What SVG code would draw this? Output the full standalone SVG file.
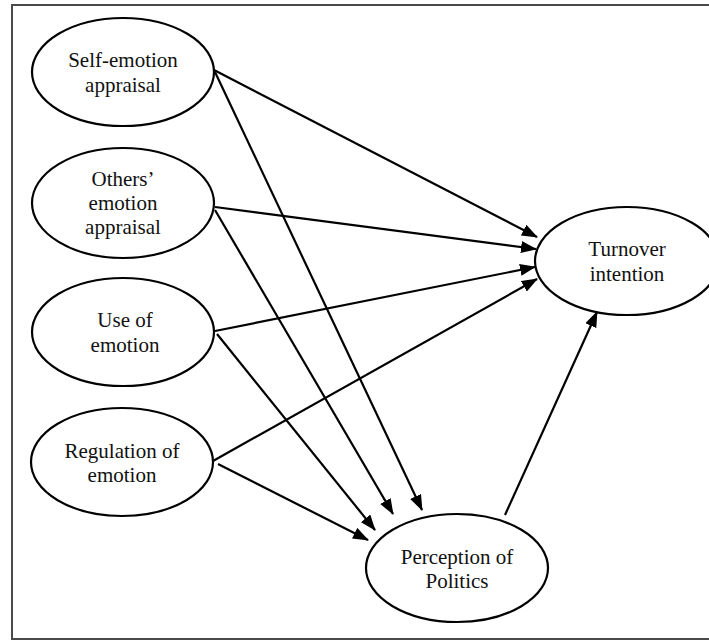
<svg xmlns="http://www.w3.org/2000/svg" width="709" height="641" viewBox="0 0 709 641">
<style>
.node ellipse{fill:#fff;stroke:#000;stroke-width:2.2}
.node text{font-family:"Liberation Serif","Times New Roman",serif;font-size:21px;fill:#111;text-anchor:middle}
.edges line{stroke:#000;stroke-width:2.2;marker-end:url(#ah)}
</style>
<defs>
<marker id="ah" markerUnits="userSpaceOnUse" markerWidth="16" markerHeight="12" viewBox="0 0 16 12" refX="15" refY="6" orient="auto">
<path d="M0,0 L16,6 L0,12 z" fill="#000"/>
</marker>
</defs>
<rect x="0" y="0" width="709" height="641" fill="#fff"/>
<rect x="12" y="5" width="706" height="634" fill="none" stroke="#4a4a4a" stroke-width="2"/>
<g id="connectors" class="edges">
<line x1="214" y1="70" x2="537" y2="237"/>
<line x1="215" y1="72" x2="422" y2="510"/>
<line x1="215" y1="207" x2="536" y2="249"/>
<line x1="215" y1="210" x2="393" y2="514"/>
<line x1="215" y1="331" x2="535" y2="267"/>
<line x1="217" y1="334" x2="375" y2="530"/>
<line x1="213" y1="461" x2="537" y2="279"/>
<line x1="218" y1="464" x2="368" y2="540"/>
<line x1="505" y1="515" x2="597" y2="312"/>
</g>
<g id="self-emotion" class="node">
<ellipse cx="123" cy="72" rx="91" ry="54"/>
<text x="123" y="67">Self-emotion</text>
<text x="123" y="92">appraisal</text>
</g>
<g id="others-emotion" class="node">
<ellipse cx="123" cy="203" rx="91" ry="55"/>
<text x="123" y="186">Others’</text>
<text x="123" y="210">emotion</text>
<text x="123" y="234">appraisal</text>
</g>
<g id="use-of-emotion" class="node">
<ellipse cx="123" cy="332" rx="91" ry="54"/>
<text x="125" y="327">Use of</text>
<text x="125" y="352">emotion</text>
</g>
<g id="regulation-of-emotion" class="node">
<ellipse cx="122" cy="462" rx="91" ry="54"/>
<text x="122" y="458">Regulation of</text>
<text x="122" y="482">emotion</text>
</g>
<g id="perception-of-politics" class="node">
<ellipse cx="457" cy="568" rx="91" ry="54"/>
<text x="457" y="564">Perception of</text>
<text x="457" y="588">Politics</text>
</g>
<g id="turnover-intention" class="node">
<ellipse cx="627" cy="261" rx="92" ry="54"/>
<text x="627" y="256">Turnover</text>
<text x="627" y="281">intention</text>
</g>
</svg>
